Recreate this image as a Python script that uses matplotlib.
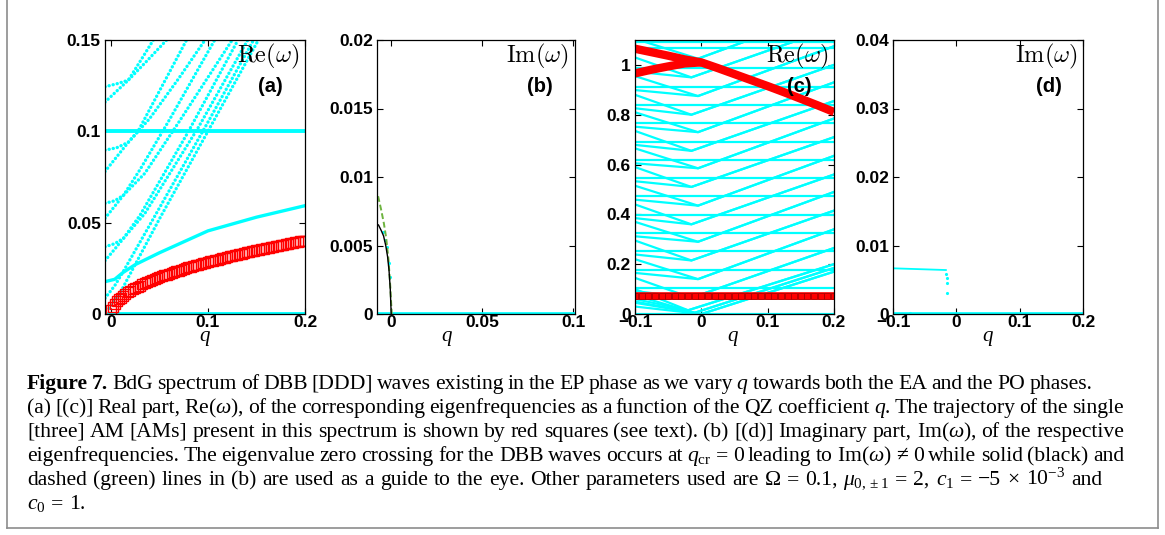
import matplotlib
matplotlib.use('Agg')
import matplotlib.pyplot as plt
from matplotlib.lines import Line2D

W, H = 1165, 535
plt.rcParams['mathtext.fontset'] = 'custom'
plt.rcParams['mathtext.rm'] = 'Liberation Serif'
plt.rcParams['mathtext.it'] = 'Liberation Serif:italic'
plt.rcParams['mathtext.bf'] = 'Liberation Serif:bold'
plt.rcParams['font.family'] = ['Liberation Sans', 'DejaVu Sans']

CYAN = '#00FFFF'
RED = '#FF0000'

# ---------------- panel (a) data ----------------
a_xticks = [0, 0.1, 0.2]
a_xticklabels = ['0', '0.1', '0.2']
a_yticks = [0, 0.05, 0.1, 0.15]
a_yticklabels = ['0', '0.05', '0.1', '0.15']
a_curves_q = [
    [-0.006, 0.006, 0.018, 0.031, 0.0438],
    [-0.006, 0.006, 0.018, 0.038, 0.0575],
    [-0.006, 0.006, 0.018, 0.028, 0.05, 0.078],
    [-0.006, 0.006, 0.018, 0.04, 0.07, 0.097],
    [-0.006, 0.004, 0.013, 0.03, 0.06, 0.107],
    [-0.006, 0.004, 0.013, 0.035, 0.07, 0.125],
    [-0.006, 0.004, 0.013, 0.03, 0.08, 0.131],
    [-0.006, 0.004, 0.013, 0.035, 0.09, 0.141],
    [-0.006, 0.004, 0.012, 0.05, 0.1, 0.147],
    [-0.002, 0.01, 0.05, 0.1, 0.152],
]
a_curves_v = [
    [0.116, 0.122, 0.128, 0.139, 0.150],
    [0.1244, 0.126, 0.128, 0.139, 0.150],
    [0.078, 0.086, 0.094, 0.100, 0.122, 0.150],
    [0.0897, 0.091, 0.094, 0.107, 0.129, 0.150],
    [0.0524, 0.059, 0.065, 0.079, 0.106, 0.150],
    [0.0606, 0.062, 0.065, 0.077, 0.105, 0.150],
    [0.0292, 0.0355, 0.0414, 0.054, 0.100, 0.150],
    [0.0368, 0.0385, 0.0414, 0.055, 0.102, 0.150],
    [0.0086, 0.0155, 0.0225, 0.058, 0.105, 0.150],
    [0.003, 0.012, 0.052, 0.100, 0.150],
]
a_branch_q = [-0.006, 0.004, 0.012, 0.025, 0.05, 0.1, 0.15, 0.2]
a_branch_v = [0.0177, 0.019, 0.0225, 0.027, 0.0335, 0.0455, 0.053, 0.0593]
a_flat_levels = [0.0, 0.1]
a_red_q = [0.000, 0.002, 0.004, 0.006, 0.008, 0.010,
           0.0125, 0.0150, 0.0175, 0.0200, 0.0225, 0.0250, 0.0275, 0.0300,
           0.0325, 0.0350, 0.0375, 0.0400, 0.0425, 0.0450, 0.0475, 0.0500,
           0.0525, 0.0550, 0.0575, 0.0600, 0.0625, 0.0650, 0.0675, 0.0700,
           0.0725, 0.0750, 0.0775, 0.0800, 0.0825, 0.0850, 0.0875, 0.0900,
           0.0925, 0.0950, 0.0975, 0.1000, 0.1025, 0.1050, 0.1075, 0.1100,
           0.1125, 0.1150, 0.1175, 0.1200, 0.1225, 0.1250, 0.1275, 0.1300,
           0.1325, 0.1350, 0.1375, 0.1400, 0.1425, 0.1450, 0.1475, 0.1500,
           0.1525, 0.1550, 0.1575, 0.1600, 0.1625, 0.1650, 0.1675, 0.1700,
           0.1725, 0.1750, 0.1775, 0.1800, 0.1825, 0.1850, 0.1875, 0.1900,
           0.1925, 0.1950, 0.1975, 0.2000]
a_red_v = [0.0020, 0.0040, 0.0057, 0.0070, 0.0080, 0.0090,
           0.0101, 0.0110, 0.0119, 0.0127, 0.0135, 0.0142, 0.0149, 0.0156,
           0.0162, 0.0168, 0.0174, 0.0180, 0.0186, 0.0191, 0.0196, 0.0201,
           0.0206, 0.0211, 0.0216, 0.0220, 0.0225, 0.0229, 0.0234, 0.0238,
           0.0242, 0.0246, 0.0251, 0.0255, 0.0259, 0.0262, 0.0266, 0.0270,
           0.0274, 0.0277, 0.0281, 0.0285, 0.0288, 0.0292, 0.0295, 0.0298,
           0.0302, 0.0305, 0.0309, 0.0312, 0.0315, 0.0318, 0.0321, 0.0324,
           0.0328, 0.0331, 0.0334, 0.0337, 0.0340, 0.0343, 0.0346, 0.0349,
           0.0351, 0.0354, 0.0357, 0.0360, 0.0363, 0.0366, 0.0368, 0.0371,
           0.0374, 0.0377, 0.0379, 0.0382, 0.0384, 0.0387, 0.0390, 0.0392,
           0.0395, 0.0397, 0.0400, 0.0402]

# ---------------- panel (b) data ----------------
b_xticks = [0, 0.05, 0.1]
b_xticklabels = ['0', '0.05', '0.1']
b_yticks = [0, 0.005, 0.01, 0.015, 0.02]
b_yticklabels = ['0', '0.005', '0.01', '0.015', '0.02']
b_black_q = [-0.0070, -0.0055, -0.0042, -0.0030, -0.0020, -0.0012, -0.0005, 0.0]
b_black_v = [0.0065, 0.0061, 0.0057, 0.0050, 0.0042, 0.0032, 0.0018, 0.0]
b_green_q = [-0.0072, -0.0055, -0.0040, -0.0028, -0.0015, -0.0005, 0.0003]
b_green_v = [0.0086, 0.0076, 0.0066, 0.0056, 0.0040, 0.0020, 0.0]
b_dots_q = [-0.0045, -0.0033, -0.0024, -0.0014, -0.0005]
b_dots_v = [0.0060, 0.0054, 0.0049, 0.0037, 0.0027]
b_zero_q = [-0.0078, 0.101]
b_zero_v = [0.0, 0.0]

# ---------------- panel (c) data ----------------
c_xticks = [-0.1, 0, 0.1, 0.2]
c_xticklabels = ['\u22120.1', '0', '0.1', '0.2']
c_yticks = [0, 0.2, 0.4, 0.6, 0.8, 1.0]
c_yticklabels = ['0', '0.2', '0.4', '0.6', '0.8', '1']
c_h_levels = [0.0, 0.104, 0.177, 0.251, 0.325, 0.398, 0.472, 0.546, 0.618,
              0.692, 0.765, 0.839, 0.912, 0.986, 1.066, 1.09]
c_v_left = [0.05, 0.075, 0.10, 0.145, 0.22, 0.295, 0.37, 0.44, 0.515, 0.59,
            0.665, 0.735, 0.81, 0.88, 0.955, 1.03, 1.105]
c_v_kink = [0.0, 0.005, 0.015, 0.065, 0.14, 0.215, 0.29, 0.36, 0.435, 0.51,
            0.585, 0.655, 0.73, 0.80, 0.875, 0.95, 1.025]
c_v_right = [0.17, 0.185, 0.20, 0.265, 0.34, 0.415, 0.49, 0.56, 0.635, 0.71,
             0.785, 0.855, 0.93, 1.0, 1.075, 1.15, 1.225]
c_v_qk = [0.0, -0.01, -0.02, -0.015, -0.005, -0.015, -0.005, -0.015, -0.005,
          -0.015, -0.005, -0.015, -0.005, -0.015, -0.005, -0.015, -0.005]
c_flat_left = [0.03, 0.045, 0.06, 0.092, 0.165, 0.239, 0.312, 0.385, 0.459,
               0.533, 0.605, 0.679, 0.752, 0.826, 0.899, 0.973, 1.053]
c_red_low_q = [-0.1, -0.09, -0.08, -0.07, -0.06, -0.05, -0.04, -0.03, -0.02, -0.01,
               0.0, 0.01, 0.02, 0.03, 0.04, 0.05, 0.06, 0.07, 0.08, 0.09,
               0.1, 0.11, 0.12, 0.13, 0.14, 0.15, 0.16, 0.17, 0.18, 0.19, 0.2]
c_red_low_v = [0.072] * 31
c_red_a_q = [-0.1, -0.075, -0.05, -0.025, 0.0, 0.025, 0.05, 0.075, 0.1, 0.125, 0.15, 0.175, 0.2]
c_red_a_v = [1.065, 1.051, 1.037, 1.022, 1.01, 0.987, 0.963, 0.939, 0.915, 0.89, 0.864, 0.838, 0.811]
c_red_b_q = [-0.1, -0.075, -0.05, -0.025, 0.0]
c_red_b_v = [0.966, 0.981, 0.994, 1.006, 1.01]

# ---------------- panel (d) data ----------------
d_xticks = [-0.1, 0, 0.1, 0.2]
d_xticklabels = ['\u22120.1', '0', '0.1', '0.2']
d_yticks = [0, 0.01, 0.02, 0.03, 0.04]
d_yticklabels = ['0', '0.01', '0.02', '0.03', '0.04']
d_line_q = [-0.1, -0.0165]
d_line_v = [0.00667, 0.00642]
d_dots_q = [-0.0158, -0.0150, -0.0147, -0.0140, -0.0737]
d_dots_v = [0.0059, 0.0052, 0.0045, 0.0030, 0.0002]
d_zero_q = [-0.1, 0.2]
d_zero_v = [0.0, 0.0]

# ---------------- caption ----------------
cap_lines = [
    "Figure 7. BdG spectrum of DBB [DDD] waves existing in the EP phase as we vary $q$ towards both the EA and the PO phases.",
    "(a) [(c)] Real part, Re($\\omega$), of the corresponding eigenfrequencies as a function of the QZ coefficient $q$. The trajectory of the single",
    "[three] AM [AMs] present in this spectrum is shown by red squares (see text). (b) [(d)] Imaginary part, Im($\\omega$), of the respective",
    "eigenfrequencies. The eigenvalue zero crossing for the DBB waves occurs at $q_\\mathrm{cr}$ = 0 leading to Im($\\omega$) \u2260 0 while solid (black) and",
    "dashed (green) lines in (b) are used as a guide to the eye. Other parameters used are \u03a9 = 0.1, $\\mu_{0,\\pm1}$ = 2, $c_1$ = \u22125 \u00d7 $10^{-3}$ and",
    "$c_0$ = 1.",
]
cap_bold = [2, 0, 0, 0, 0, 0]
cap_right = [1092, 1124, 1124, 1124, 1102, None]
cap_base = [389, 413, 437, 461, 485, 509]
cap_left = 27

fig = plt.figure(figsize=(W / 100, H / 100), dpi=100)


def make_ax(l, r, t, b):
    return fig.add_axes([l / W, 1 - b / H, (r - l) / W, (b - t) / H])


def style(ax, xlim, ylim, xt, xtl, yt, ytl):
    ax.set_xlim(xlim)
    ax.set_ylim(ylim)
    ax.set_xticks(xt)
    ax.set_xticklabels(xtl, fontweight='bold', fontsize=12.5)
    ax.set_yticks(yt)
    ax.set_yticklabels(ytl, fontweight='bold', fontsize=12.5)
    ax.tick_params(direction='in', top=True, right=True, length=4, width=0.8)
    ax.tick_params(axis='x', pad=1.0)
    ax.tick_params(axis='y', pad=3)
    for s in ax.spines.values():
        s.set_linewidth(0.9)


def labels(ax, title, tag):
    ax.text(0.97, 0.94, title, transform=ax.transAxes, ha='right', va='center',
            fontsize=17.5, math_fontfamily='cm')
    ax.text(0.89, 0.832, tag, transform=ax.transAxes, ha='right', va='center',
            fontsize=14.5, fontweight='bold')


# (a)
axa = make_ax(105, 305, 40, 314)
for lev in a_flat_levels:
    axa.axhline(lev, color=CYAN, lw=2.8)
for qs, vs in zip(a_curves_q, a_curves_v):
    axa.plot(qs, vs, color=CYAN, lw=2.4, linestyle=(0, (0.05, 1.2)),
             dash_capstyle='round')
axa.plot(a_branch_q, a_branch_v, color=CYAN, lw=2.4)
axa.plot(a_red_q, a_red_v, linestyle='none', marker='s', ms=7.0, mfc='none',
         mec=RED, mew=1.0)
style(axa, (-0.006, 0.2), (0, 0.15), a_xticks, a_xticklabels, a_yticks, a_yticklabels)
labels(axa, r'$\mathrm{Re}(\omega)$', '(a)')

# (b)
axb = make_ax(377, 575, 40, 314)
axb.plot(b_zero_q, b_zero_v, color=CYAN, lw=3.4)
axb.plot(b_dots_q, b_dots_v, linestyle='none', marker='.', ms=2.5, color=CYAN)
axb.plot(b_green_q, b_green_v, color='#6DB33F', lw=1.4, linestyle=(0, (3, 1.5)))
axb.plot(b_black_q, b_black_v, color='black', lw=1.0)
style(axb, (-0.0078, 0.101), (0, 0.02), b_xticks, b_xticklabels, b_yticks, b_yticklabels)
labels(axb, r'$\mathrm{Im}(\omega)$', '(b)')

# (c)
axc = make_ax(635, 834, 40, 314)
for lev in c_h_levels:
    axc.axhline(lev, color=CYAN, lw=1.6)
for vl, vk, vr, qk, fl in zip(c_v_left, c_v_kink, c_v_right, c_v_qk, c_flat_left):
    axc.plot([-0.1, qk, 0.2], [vl, vk, vr], color=CYAN, lw=1.6)
    axc.plot([-0.1, qk, 0.2], [fl, vk, vr], color=CYAN, lw=1.6)
axc.plot(c_red_low_q, c_red_low_v, color=RED, lw=5.5, solid_capstyle='butt')
axc.plot(c_red_low_q, c_red_low_v, linestyle='none', marker='s', ms=4, mfc='none',
         mec='#B00000', mew=0.6)
for qs, vs in ((c_red_a_q, c_red_a_v), (c_red_b_q, c_red_b_v)):
    axc.plot(qs, vs, color=RED, lw=6.0, solid_capstyle='butt', solid_joinstyle='round')
style(axc, (-0.1, 0.2), (0, 1.1), c_xticks, c_xticklabels, c_yticks, c_yticklabels)
labels(axc, r'$\mathrm{Re}(\omega)$', '(c)')

# (d)
axd = make_ax(893, 1083, 40, 314)
axd.plot(d_zero_q, d_zero_v, color=CYAN, lw=3.4)
axd.plot(d_line_q, d_line_v, color=CYAN, lw=1.3)
axd.plot(d_dots_q, d_dots_v, linestyle='none', marker='.', ms=2.5, color=CYAN)
style(axd, (-0.1, 0.2), (0, 0.04), d_xticks, d_xticklabels, d_yticks, d_yticklabels)
labels(axd, r'$\mathrm{Im}(\omega)$', '(d)')

# x labels
for xpix in (205, 447, 733, 988):
    fig.text(xpix / W, 1 - 337 / H, 'q', ha='center', va='center', fontsize=15,
             family='Liberation Serif', style='italic')

# border
bc = '#8c8c8c'
fig.add_artist(Line2D([7 / W, 7 / W], [1.0, 1 - 528 / H], color=bc, lw=1.2))
fig.add_artist(Line2D([1158 / W, 1158 / W], [1.0, 1 - 528 / H], color=bc, lw=1.2))
fig.add_artist(Line2D([7 / W, 1158 / W], [1 - 528 / H, 1 - 528 / H], color=bc, lw=1.2))

# caption with word-level justification
renderer = fig.canvas.get_renderer()
F0 = 13.0
rows = []
for i, line in enumerate(cap_lines):
    words = line.split()
    ts = [fig.text(0, 0, w, fontsize=F0, family='Liberation Serif',
                   fontweight='bold' if j < cap_bold[i] else 'normal', va='baseline')
          for j, w in enumerate(words)]
    rows.append(ts)


def widths(ts):
    return [t.get_window_extent(renderer).width for t in ts]


scale = 10.0
for i, ts in enumerate(rows):
    if cap_right[i] is None:
        continue
    sw = sum(widths(ts))
    sp = 0.2 * F0 * 100 / 72
    scale = min(scale, (cap_right[i] - cap_left) / (sw + (len(ts) - 1) * sp))
F = F0 * scale
for i, ts in enumerate(rows):
    for t in ts:
        t.set_fontsize(F)
    ws = widths(ts)
    if cap_right[i] is None:
        gap = 0.25 * F * 100 / 72
    else:
        gap = (cap_right[i] - cap_left - sum(ws)) / (len(ts) - 1)
    x = cap_left
    for t, w in zip(ts, ws):
        t.set_position((x / W, 1 - cap_base[i] / H))
        x += w + gap

fig.savefig('out.png', dpi=100)
